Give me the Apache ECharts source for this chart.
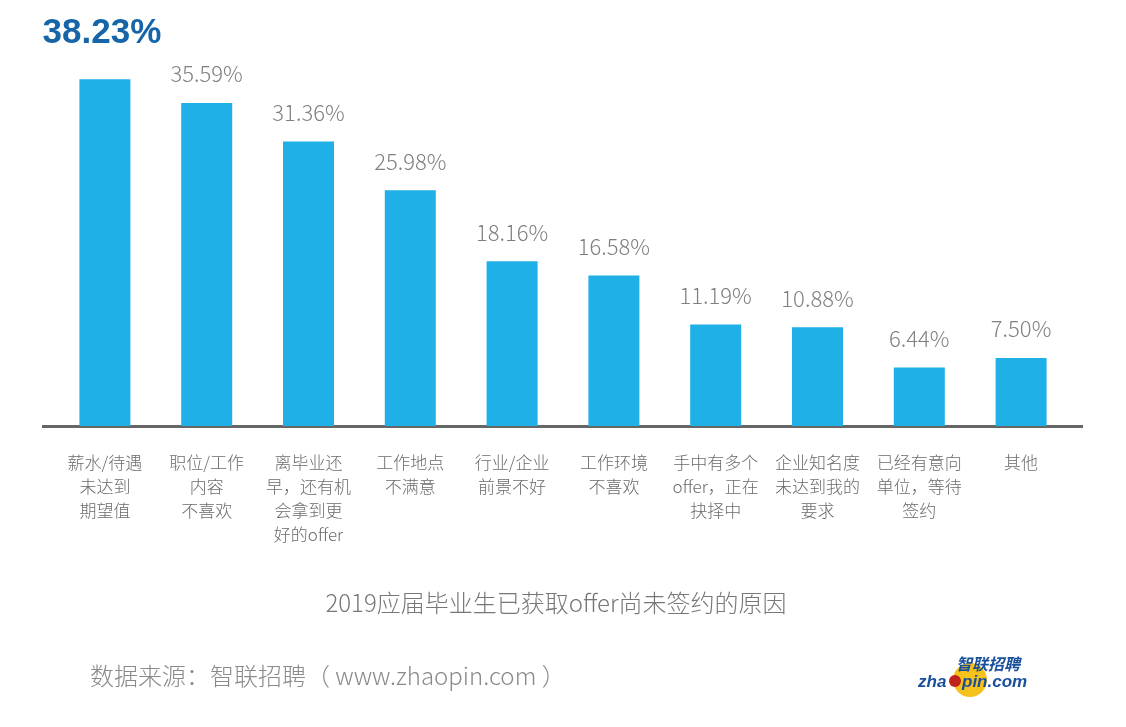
<!DOCTYPE html>
<html><head><meta charset="utf-8">
<script src="https://cdn.jsdelivr.net/npm/echarts@6/dist/echarts.min.js"></script>
<style>html,body{margin:0;padding:0;background:#fff}#c{width:1126px;height:727px}</style>
</head><body><div id="c"></div>
<script>
const categories = ['薪水/待遇\n未达到\n期望值','职位/工作\n内容\n不喜欢','离毕业还\n早，还有机\n会拿到更\n好的offer','工作地点\n不满意','行业/企业\n前景不好','工作环境\n不喜欢','手中有多个\noffer，正在\n抉择中','企业知名度\n未达到我的\n要求','已经有意向\n单位，等待\n签约','其他'];
const values = [38.23, 35.59, 31.36, 25.98, 18.16, 16.58, 11.19, 10.88, 6.44, 7.50];
const titleText = '2019应届毕业生已获取offer尚未签约的原因';
const sourceText = '数据来源：智联招聘（ www.zhaopin.com ）';
const FONT = '"Noto Sans CJK SC", "Noto Sans", sans-serif';

const chart = echarts.init(document.getElementById('c'));
const data = values.map((v, i) => i === 0 ? {
  value: v,
  label: { fontSize: 35, fontWeight: 'bold', color: '#1565a8', distance: 28, offset: [-3, 0], fontFamily: 'Arial, "Liberation Sans", sans-serif' }
} : v);

chart.setOption({
  animation: false,
  grid: { left: 54, width: 1018, top: 54, bottom: 727 - 426 },
  xAxis: {
    type: 'category', data: categories,
    axisLine: { show: false }, axisTick: { show: false },
    axisLabel: { interval: 0, color: '#6b6b6b', fontSize: 17, fontWeight: 300, lineHeight: 24, margin: 25, fontFamily: FONT }
  },
  yAxis: { type: 'value', min: 0, max: 41, show: false, splitLine: { show: false } },
  series: [{
    type: 'bar', data: data, barWidth: 51,
    itemStyle: { color: '#1fb0e8' },
    label: { show: true, position: 'top', distance: 18, color: '#808080', fontSize: 22, fontWeight: 300, fontFamily: FONT,
      formatter: p => p.value.toFixed(2) + '%' }
  }],
  graphic: [
    { type: 'line', shape: { x1: 42, y1: 426.5, x2: 1083, y2: 426.5 }, style: { stroke: '#666', lineWidth: 3 } },
    { type: 'text', x: 556, y: 603, style: { text: titleText, fill: '#777', font: '300 24px ' + FONT, textAlign: 'center', textVerticalAlign: 'middle' } },
    { type: 'text', x: 90, y: 676, style: { text: sourceText, fill: '#8a8a8a', font: '300 24px ' + FONT, textAlign: 'left', textVerticalAlign: 'middle' } },
    { type: 'circle', shape: { cx: 970, cy: 680, r: 17 }, style: { fill: '#f5c21b' } },
    { type: 'text', x: 988, y: 664, style: { text: '智联招聘', fill: '#1a4f9c', font: 'bold italic 16px ' + FONT, textAlign: 'center', textVerticalAlign: 'middle' } },
    { type: 'text', x: 918, y: 682, style: { text: 'zha', fill: '#1a4f9c', font: 'bold italic 17px Arial, sans-serif', textAlign: 'left', textVerticalAlign: 'middle' } },
    { type: 'circle', shape: { cx: 955, cy: 681, r: 6 }, style: { fill: '#c0221c' } },
    { type: 'text', x: 962, y: 682, style: { text: 'pin.com', fill: '#1a4f9c', font: 'bold italic 17px Arial, sans-serif', textAlign: 'left', textVerticalAlign: 'middle' } }
  ]
});
</script></body></html>
